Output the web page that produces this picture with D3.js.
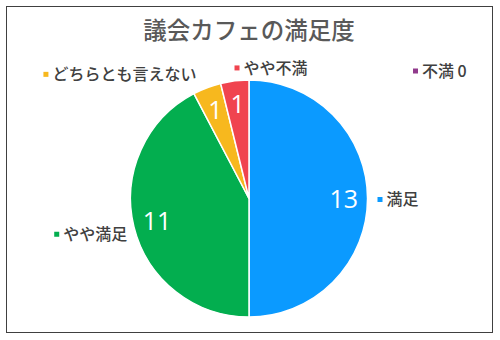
<!DOCTYPE html>
<html>
<head>
<meta charset="utf-8">
<script src="https://cdn.jsdelivr.net/npm/d3@7"></script>
<style>
  body { margin: 0; background: #fff; }
  text { font-family: "Noto Sans CJK JP", "Noto Sans", sans-serif; }
  text.val { font-family: "Open Sans", "Noto Sans", sans-serif; }
</style>
</head>
<body>
<div id="chart"></div>
<script>
let title = "議会カフェの満足度";
let categories = ["満足", "やや満足", "どちらとも言えない", "やや不満", "不満"];
let values = [13, 11, 1, 1, 0];
let colors = ["#0b9aff", "#03ae4f", "#f7b81e", "#f0444f", "#913a8c"];

let width = 500;
let height = 340;
let cx = 249, cy = 198.5;
let radius = 118.5;

// label placement per slice: [dx, dy, anchor] relative to outside arc point
let labelTweak = [
    [0, 1, "start"],
    [3, 5, "end"],
    [-7, -4, "end"],
    [1, -3, "start"],
    [164, 1, "start"]
];

let svg = d3.select("#chart")
    .append("svg")
    .attr("width", width)
    .attr("height", height);

svg.append("rect")
    .attr("x", 6.5).attr("y", 6.5)
    .attr("width", 486).attr("height", 326)
    .attr("fill", "#fff")
    .attr("stroke", "#404040")
    .attr("stroke-width", 1);

svg.append("text")
    .attr("x", 249)
    .attr("y", 39)
    .attr("text-anchor", "middle")
    .attr("font-size", 23.5)
    .attr("font-weight", 500)
    .attr("fill", "#595959")
    .text(title);

let data = categories.map((c, i) => ({ name: c, value: values[i], color: colors[i] }));

let pie = d3.pie().value(d => d.value).sort(null);
let arc = d3.arc().innerRadius(0).outerRadius(radius);
let inner = d3.arc().innerRadius(radius * 0.8).outerRadius(radius * 0.8);
let outer = d3.arc().innerRadius(radius + 10).outerRadius(radius + 10);

let g = svg.append("g").attr("transform", `translate(${cx},${cy})`);
let arcs = pie(data);

g.selectAll("path")
    .data(arcs.filter(d => d.data.value > 0))
    .enter()
    .append("path")
    .attr("d", arc)
    .attr("fill", d => d.data.color)
    .attr("stroke", "#fff")
    .attr("stroke-width", 1.5);

g.selectAll(".val")
    .data(arcs.filter(d => d.data.value > 0))
    .enter()
    .append("text")
    .attr("class", "val")
    .attr("transform", d => `translate(${inner.centroid(d)})`)
    .attr("text-anchor", "middle")
    .attr("dy", "0.36em")
    .attr("font-size", 25)
    .attr("fill", "#fff")
    .text(d => d.data.value);

let labels = g.selectAll(".cat")
    .data(arcs)
    .enter()
    .append("g")
    .attr("class", "cat")
    .attr("transform", (d, i) => {
        let p = outer.centroid(d);
        return `translate(${p[0] + labelTweak[i][0]},${p[1] + labelTweak[i][1]})`;
    });

labels.append("text")
    .attr("text-anchor", (d, i) => labelTweak[i][2])
    .attr("x", (d, i) => labelTweak[i][2] === "start" ? 9 : 0)
    .attr("dy", "0.36em")
    .attr("font-size", 16)
    .attr("font-weight", 500)
    .attr("fill", "#404040")
    .text(d => d.data.value > 0 ? d.data.name : d.data.name + " " + d.data.value)
    .each(function(d, i) {
        let b = this.getBBox();
        d3.select(this.parentNode).insert("rect", "text")
            .attr("x", labelTweak[i][2] === "start" ? 0 : -b.width - 9)
            .attr("y", -2.5)
            .attr("width", 5)
            .attr("height", 5)
            .attr("fill", d.data.color);
    });
</script>
</body>
</html>
